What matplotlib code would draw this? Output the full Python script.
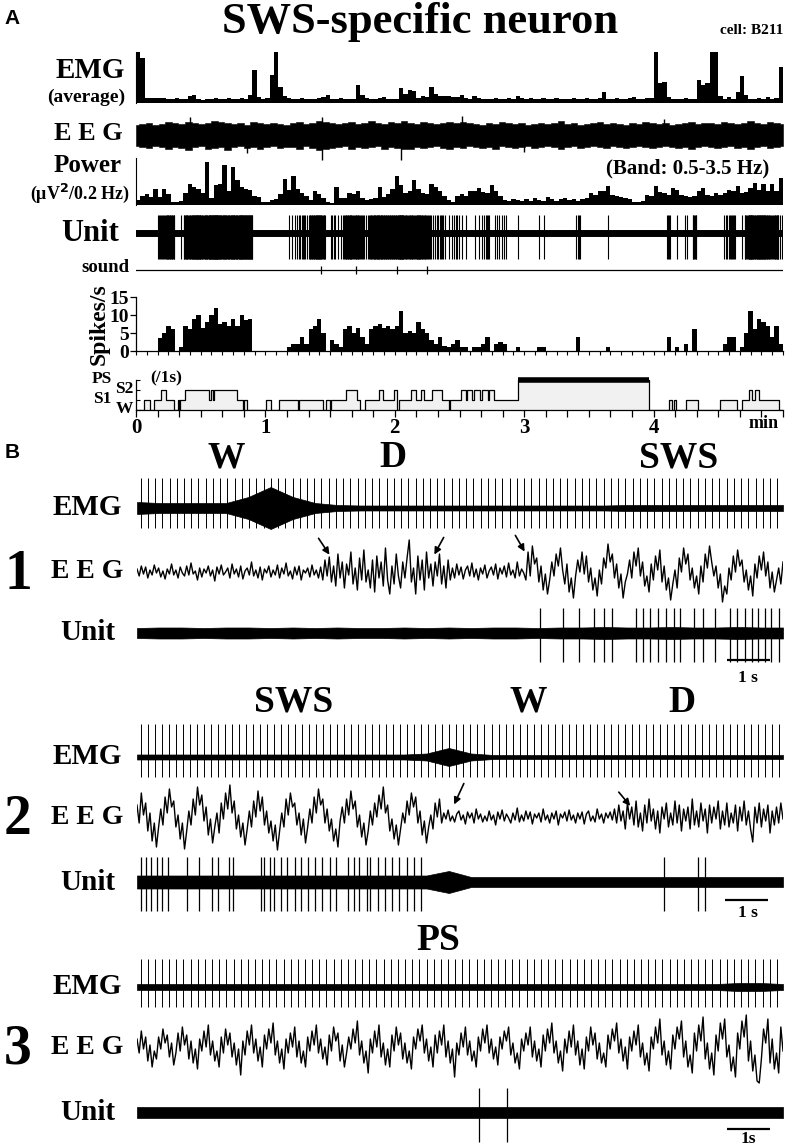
import matplotlib
matplotlib.use('Agg')
import matplotlib.pyplot as plt
import numpy as np

# ---------------- panel A : 2 s bins over 0-300 s ----------------
emg_avg = [10, 8.8, 1.0, 0.9, 1.0, 0.9, 1.0, 0.8, 0.8, 1.0, 0.7, 0.8, 1.3, 1.6, 0.7, 0.6, 0.8, 0.7, 0.9, 0.7,
           0.8, 1.0, 0.8, 0.7, 0.9, 0.8, 1.5, 6.4, 1.2, 0.8, 0.9, 5.4, 10, 3.2, 1.4, 0.9, 0.8, 0.7, 0.9, 0.7,
           0.8, 0.7, 0.9, 1.2, 1.5, 0.8, 0.7, 0.9, 0.8, 0.7, 0.8, 3.5, 1.6, 0.9, 0.8, 0.7, 0.9, 1.1, 0.8, 0.7,
           0.8, 3.0, 1.8, 2.6, 2.4, 1.0, 1.3, 1.2, 3.2, 1.8, 1.4, 1.3, 1.4, 1.2, 1.1, 1.5, 0.9, 0.8, 1.4, 0.9,
           0.7, 0.8, 0.7, 0.9, 0.8, 0.7, 0.9, 0.8, 1.4, 0.9, 0.7, 1.0, 0.8, 0.7, 0.9, 0.8, 0.7, 0.9, 0.8, 0.7,
           0.8, 0.9, 0.7, 0.8, 1.0, 0.8, 0.7, 0.9, 2.2, 0.8, 0.7, 1.0, 0.8, 0.7, 0.9, 1.2, 0.8, 0.7, 0.9, 1.0,
           10, 4.0, 4.2, 1.2, 0.8, 0.7, 0.8, 0.9, 0.7, 0.8, 4.6, 3.6, 4.0, 10, 10, 1.4, 0.8, 1.2, 0.8, 2.2,
           5.2, 1.6, 0.8, 0.7, 0.9, 0.8, 1.1, 0.8, 0.9, 7.0]

power = [1.2, 2.0, 2.5, 1.8, 3.7, 1.8, 3.7, 2.5, 0.8, 0.8, 1.0, 2.9, 5.0, 4.2, 3.7, 2.9, 10, 1.7, 4.6, 5.0,
         9.3, 3.3, 9.0, 5.8, 4.2, 3.7, 3.5, 2.0, 1.8, 0.8, 0.7, 1.2, 1.5, 2.5, 6.0, 3.5, 6.7, 3.8, 2.9, 2.0,
         1.2, 3.3, 2.5, 1.7, 0.8, 0.5, 4.2, 1.7, 1.7, 2.9, 2.5, 3.2, 1.7, 1.2, 1.5, 1.7, 4.2, 1.8, 2.5, 3.7,
         6.8, 4.6, 2.9, 3.3, 5.8, 3.7, 2.9, 2.5, 5.0, 4.2, 3.3, 2.1, 1.2, 0.8, 2.1, 2.6, 2.0, 3.2, 3.2, 4.0,
         3.0, 2.8, 4.6, 3.2, 2.0, 1.2, 1.0, 1.5, 1.2, 0.9, 1.4, 1.0, 1.6, 1.2, 1.0, 1.8, 1.3, 1.0, 1.4, 1.7,
         1.2, 1.5, 1.0, 1.4, 1.6, 2.8, 2.4, 3.2, 3.2, 4.4, 2.4, 2.0, 1.8, 1.6, 1.4, 0.8, 0.8, 1.0, 2.4, 2.0,
         4.4, 3.0, 2.8, 2.4, 4.0, 3.4, 2.4, 2.0, 1.8, 2.2, 3.2, 4.0, 2.4, 2.0, 2.8, 2.4, 2.8, 3.6, 3.2, 4.4,
         2.8, 3.0, 4.0, 5.2, 3.6, 4.8, 3.2, 5.0, 3.2, 6.4]

spike_rate = [0, 0, 0, 0, 0, 3.5, 5, 7, 6, 0, 1, 7, 6, 9, 10, 6.5, 8, 10, 12, 7.5,
              8, 7, 9, 7, 10, 8.5, 9, 0, 0, 0, 0, 0, 0, 0, 0, 1, 2, 2, 4, 2,
              6, 7, 9, 5, 0, 3, 2, 1, 6, 7, 5, 6.5, 4, 2, 6, 7, 7.5, 6.5, 7, 6,
              7, 11, 5, 5.5, 5, 8, 6, 5, 3, 2, 4, 1.5, 1, 2, 3, 1, 1, 0, 1, 1,
              2, 4, 0, 2, 2.5, 2, 0, 0, 1, 0, 0, 0, 0, 1, 1, 0, 0, 0, 0, 0,
              0, 0, 4, 0, 0, 0, 0, 0, 0, 1, 0, 0, 0, 0, 0, 0, 0, 0, 0, 0,
              0, 0, 0, 4, 0, 1, 0, 2, 0, 6, 0, 0, 0, 0, 0, 0, 2, 4, 4, 0,
              1, 5, 11, 6, 9, 8, 7, 4, 7, 2]

# EEG band envelope, 3 s segments, plus isolated large deflections
eeg_a_upper = [10, 11, 12, 10, 11, 13, 12, 11, 13, 12, 11, 12, 14, 13, 12, 11, 12, 10, 13, 12,
               11, 12, 11, 10, 12, 13, 11, 12, 14, 13, 12, 11, 12, 13, 11, 12, 14, 12, 11, 13,
               12, 14, 12, 11, 13, 12, 11, 12, 13, 12, 13, 12, 11, 10, 12, 11, 13, 12, 11, 12,
               10, 11, 12, 11, 12, 14, 11, 12, 10, 11, 12, 13, 11, 12, 11, 10, 12, 11, 13, 12,
               11, 12, 10, 11, 12, 13, 11, 12, 12, 11, 13, 12, 11, 12, 14, 12, 11, 13, 12, 11]
eeg_a_lower = [-11, -12, -13, -11, -12, -14, -12, -13, -15, -12, -11, -14, -13, -12, -15, -12, -11, -13, -12, -14,
               -12, -11, -13, -12, -12, -14, -11, -13, -15, -14, -13, -12, -11, -14, -12, -13, -12, -11, -14, -12,
               -13, -14, -14, -12, -13, -12, -11, -13, -14, -12, -13, -11, -12, -13, -12, -14, -11, -12, -13, -12,
               -11, -13, -12, -11, -12, -14, -12, -11, -13, -12, -11, -12, -13, -11, -12, -13, -12, -11, -12, -13,
               -12, -11, -12, -13, -12, -14, -12, -11, -12, -13, -12, -11, -13, -12, -14, -12, -11, -13, -12, -11]
eeg_a_spike_min = [0.42, 0.86, 1.44, 1.44, 2.05, 2.52, 3.00, 4.08]
eeg_a_spike_amp = [18, -18, 18, -25, -25, 19, -17, 16]

sound_min = [1.43, 1.70, 2.02, 2.25]

hyp_start_s = [0, 3.6, 6.7, 8.5, 11.6, 13.9, 17.5, 19.3, 19.8, 20.3, 22.7, 34.0, 34.7, 35.5, 36.3,
               47.0, 49.4, 50.0, 51.7, 60.2, 62.5, 66.4, 75.0, 75.5, 86.5, 88.0, 90.0, 90.6, 97.3,
               102.7, 104.0, 106.0, 112.7, 114.3, 119.7, 121.2, 121.8, 127.4, 129.7, 132.0, 133.6,
               137.4, 142.0, 145.0, 145.6, 150.6, 152.9, 153.7, 156.0, 156.8, 159.4, 160.3, 163.0,
               163.7, 166.0, 176.9, 237.9, 247.0, 248.7, 249.4, 250.5, 254.8, 260.7, 271.0, 278.8,
               281.0, 284.2, 285.7, 286.8, 288.8, 298.0]
hyp_stage = [0, 1, 0, 1, 2, 1, 0, 1, 0, 1, 2, 1, 2, 1, 2,
             1, 0, 1, 0, 1, 0, 1, 0, 1, 0, 1, 0, 1, 2,
             1, 0, 1, 2, 1, 2, 0, 1, 2, 1, 2, 1,
             2, 1, 0, 1, 2, 1, 2, 1, 2, 1, 2, 1,
             2, 1, 3, 0, 1, 0, 1, 0, 1, 0, 1, 0,
             1, 2, 1, 2, 1, 0]
stage_names = ['W', 'S1', 'S2', 'PS']

# ---------------- panel B : 15 s sweeps, 0.05 s samples ----------------
b1_eeg = [3, -4, 6, -2, 5, -6, 2, -3, 7, -1, 4, -5, 1, -7, 3, -2, 8, -3, 2, -6,
          5, -1, -4, 6, -3, 9, -2, 1, -8, 4, -5, 3, -1, 6, -4, 2, -9, 5, -2, 7,
          -3, 0, 4, -6, 8, -2, 3, -5, 6, -7, 1, 4, -3, 10, -4, 2, -6, 5, -8, 3,
          -1, 6, -5, 2, -3, 7, -6, 4, -2, 9, -4, 1, -7, 5, -3, 6, -8, 2, -1, 4,
          -5, 7, -3, 2, -6, 5,
          -8, 12, -4, 15, -10, 6, -14, 18, -6, 10, -16, 8, -3, 20, -12, 4, -18, 14, -8, 22,
          -10, 2, -16, 12, -20, 16, -6, 10, -14, 24, -8, -22, 6, -12, 18, -4, -16, 10, -6, 14,
          32, -10, 4, -22, 16, -8, 12, -18, 20, -6, 8, -14, 10, -4, 18, -12, 6, -16, 12, -8, 4,
          -6, 8, -3, 5, -7, 2, 6, -4, 9, -5, 3, -8, 4, -2, 7, -6, 1, 5, -3, 8,
          -7, 4, -2, 6, -5, 9, -3, 2, -6, 10, -4, 3, -1, -8,
          20, -4, 26, 8, 14, -10, 6, -18, -2, -22, -8, 10, -4, 18, 6, 24, 2, -12, 8, -20,
          -6, -26, -4, 12, 0, 20, -2, 16, -10, 4, -18, -6, -24, 2, -12, 14, 4, 28, 10, 18,
          -6, 8, -16, -2, -26, -10, -2, 12, -6, 20, 6, 24, -4, 10, -14, -4, -20, 8, -8, 16,
          2, 22, -10, 6, -18, -6, -28, -12, 2, -16, 14, 0, 24, 8, 18, -8, 4, -16, -4, -22,
          6, -10, 18, 4, 26, 10, -4, 6, -16, -2, -30, -14, -22, 4, -8, 16, 0, 22, 6, 12,
          -10, 2, -18, -4, -24, 8, -6, 16, 2, 20, -4, 10, -16, 0, -20, -8, 4, -12, 10]
b2_eeg = [12, -6, 24, 2, 14, -14, 4, -24, -6, -30, -10, 8, -8, 20, 4, 28, 10, 16, -10, 2,
          -22, -6, -32, -14, 6, -8, 18, 2, 30, 12, 22, -4, 10, -18, -2, -26, -10, 4, -16, 14,
          -2, 24, 8, 32, 4, 16, -12, 2, -20, -6, -28, -12, 6, -10, 16, 0, 26, 6, 20, -8,
          6, -16, -4, -24, -8, -33, -14, 4, -10, 18, 2, 24, 10, 14, -8, 4, -18, -2, -26, -10,
          8, -6, 20, 4, 28, 12, 18, -6, 8, -14, -2, -24, -12, -30, -4, 10, -6, 18, 2, 26,
          8, 16, -10, 2, -20, -6, -28, -14, 6, -8, 14, 0, 22, 8, 30, 4, 12, -14, -2, -22,
          -8, -28, -12, 4, -6, 16, 2, 24, 10, 20, -6, 6, -18, -4, -26, -10, 2, -12, 14, 0, 18,
          -6, 4, -2, 7, -4, 1, -5, 3, 6, -3, 2, -7, 5, -1, 4, -6, 8, -2, 3, -5,
          1, -4, 6, -3, 2, -8, 5, -2, 7, -4, 3, -1, -6, 4, -3, 9, -5, 2, -4, 6,
          -2, 5, -7, 3, -1, 4, -5, 8, -3, 2, -6, 4, -2, 6, -8, 3, -1, 5, -4, 7,
          -3, 2, -6, 4, -2, 5, -7, 3, 6, -4, 1, -5, 8, -2, 3, -6, 4, -1, 5, -3,
          8, -6, 12, -4, 6, -12, 14, -2, 10, -8, 16, -10, 4, -14, 12, -6, 18, -4, 8, -12,
          6, -16, 10, -2, 14, -10, 4, -8, 16, -6, 12, -14, 8, -4, 10, -12, 18, -8, 6, -10,
          14, -4, 8, -16, 12, -6, 10, -2, 16, -12, 6, -8, 14, -10, 4, -6, 12, -14, 10, -4,
          16, -8, 6, -12, -25, 10, -6, 14, -10, 8, -4, 12, -16, 6, -8, 10, -6, 14, -2]
b3_eeg = [8, -6, 16, -2, 10, -14, 2, -20, -4, -12, 10, -2, 18, 4, 12, -10, 4, -18, -6, 14,
          -4, 20, 2, 12, -12, 6, -16, -2, -22, 8, -4, 16, 0, 22, -8, 6, -14, -4, -20, 10,
          -6, 18, 2, 14, -10, 4, -18, -2, -28, 6, -8, 16, 2, 22, -6, 8, -14, 0, -20, 12,
          -2, 18, 4, 24, -8, 6, -16, -2, -22, 8, -6, 14, 0, 20, -10, 6, -16, -4, -20, 10,
          -4, 16, 2, 22, -6, 8, -12, 0, -18, 12, -4, 20, 6, 14, -14, 2, -20, -6, 10, -2,
          18, 4, 26, -8, 6, -16, -4, -26, 8, -6, 16, 0, 22, -10, 4, -18, -2, -20, 12, -4,
          20, 2, 14, -12, 4, -16, -4, -22, 10, -2, 18, 6, 22, -6, 8, -14, 0, -20, 12, -6,
          16, 2, 22, -10, 6, -16, -2, -30, 4, -8, 14, 0, 20, -8, 6, -14, -4, -20, 10, -4,
          18, 4, 22, -6, 8, -12, 0, -18, 10, -2, 16, 6, 20, -8, 4, -16, -6, -22, 8, -4,
          14, 2, 20, -10, 6, -14, -2, -20, 12, -4, 18, 4, 24, -6, 6, -16, -4, -24, 8, -6,
          16, 0, 22, -8, 6, -18, -2, -22, 10, -4, 20, 2, 14, -12, 4, -16, -6, -20, 12, -2,
          18, 6, 24, -6, 8, -14, 0, -22, 10, -4, 16, 2, 22, -10, 4, -18, -6, -24, 10, -2,
          20, 4, 28, -8, 6, -18, -4, -22, 12, -2, 20, 8, 26, -10, 6, -20, -8, -26, 14, -4,
          22, 6, 30, -12, 4, -22, -6, -28, 12, -4, 24, 8, 28, -10, 2, -24, -10, -30, 14, -2,
          26, 10, 32, -14, 6, -24, -8, -34, -36, -12, 18, 4, 28, -16, 8, -22, -6, -26, 20, -4]

# noise envelopes (0.5 s segments)
b1_emg_env = [6, 5, 5, 5, 5, 11, 21, 11, 5, 3, 2.5, 2.5, 2.5, 2.5, 2.5, 2.5, 2.5, 2.5, 2.5, 2.5,
              2.5, 2.5, 3, 3, 3, 3, 3, 3, 3, 3]
b2_emg_env = [2.5, 2.5, 2.5, 2.5, 2.5, 2.5, 2.5, 2.5, 2.5, 2.5, 2.5, 2.5, 2.5, 3.5, 9, 3.5, 2, 2, 2, 2,
              2, 2, 2, 2, 2, 2, 2, 2, 2, 2]
b3_emg_env = [3, 3, 3, 3, 3, 3, 3, 3, 3, 3, 3, 3, 3, 3, 3, 3, 3, 3, 3, 3, 3, 3, 3, 3, 3, 3, 3, 4, 4, 3]
b1_unit_env = [5, 5.5, 5.5, 5, 5.5, 5.5, 5, 5.5, 5, 5.5, 5, 5, 5.5, 5, 5.5, 5, 5.5, 5.5, 5, 5.5,
               5.5, 6, 5.5, 5.5, 6, 5.5, 5.5, 6, 5.5, 5.5]
b2_unit_env = [6.5, 6.5, 6.5, 6.5, 6.5, 6.5, 6.5, 6.5, 6.5, 6.5, 6.5, 6.5, 6.5, 6.5, 11, 5, 5, 5, 5, 5,
               5, 5, 5, 5, 5, 5, 5, 5, 5, 5]
b3_unit_env = [5.5, 5.5, 5.5, 5.5, 5.5, 5.5, 5.5, 5.5, 5.5, 5.5, 5.5, 5.5, 5.5, 5.5, 5.5, 5.5, 5.5, 5.5,
               5.5, 5.5, 5.5, 5.5, 5.5, 5.5, 5.5, 5.5, 5.5, 5.5, 5.5, 5.5]

b1_unit_spikes = [9.36, 9.90, 10.27, 10.60, 10.84, 11.04, 11.58, 11.74, 11.91, 12.09, 12.29, 12.46, 12.61,
                  12.94, 13.14, 13.41, 13.76, 13.93, 14.11, 14.29, 14.43, 14.58, 14.72, 14.90]
b2_unit_spikes = [0.09, 0.21, 0.33, 0.47, 0.58, 0.73, 1.17, 1.44, 1.73, 1.87, 2.14, 2.22, 2.88, 2.96, 3.08,
                  3.19, 3.34, 3.49, 3.66, 3.81, 3.98, 4.13, 4.30, 4.48, 4.63, 4.89, 5.03, 5.15, 5.33, 5.42,
                  5.59, 5.77, 5.92, 6.08, 6.27, 6.44, 6.59, 12.24, 13.02, 13.18]
b3_unit_spikes = [7.93, 8.60]

heart_period = [0.168, 0.163, 0.166]

# ---------------- figure ----------------
W, H = 789, 1148
fig = plt.figure(figsize=(W / 100, H / 100), dpi=100)
plt.rcParams['font.family'] = ['Liberation Serif', 'DejaVu Serif']
plt.rcParams['font.weight'] = 'bold'


def px_axes(x0, y0, x1, y1):
    ax = fig.add_axes([x0 / W, 1 - y1 / H, (x1 - x0) / W, (y1 - y0) / H])
    ax.set_facecolor('none')
    for s in ax.spines.values():
        s.set_visible(False)
    ax.set_xticks([])
    ax.set_yticks([])
    return ax


def ftext(x, y, s, size, ha='center', **kw):
    fig.text(x / W, 1 - y / H, s, fontsize=size, ha=ha, va='center', fontweight='bold', **kw)


XL, XR = 136, 783          # panel A time axis 0..5 min
bins_min = np.arange(len(spike_rate)) * 2 / 60
bw = 2 / 60

ftext(12, 18, 'A', 15, family='Liberation Sans')
ftext(420, 22, 'SWS-specific neuron', 32)
ftext(752, 30, 'cell: B211', 11)

# EMG average
ax = px_axes(XL, 52, XR, 103)
ax.bar(bins_min, emg_avg, width=bw, align='edge', color='k', lw=0)
ax.set_xlim(0, 5); ax.set_ylim(0, 10)
ax.spines['left'].set_visible(True); ax.spines['left'].set_linewidth(0.8)
ax.axhline(0, color='k', lw=1.5)
ftext(90, 70, 'EMG', 21)
ftext(86, 97, '(average)', 14)

# EEG
ax = px_axes(XL, 108, XR, 162)
tt = np.linspace(0, 5, len(eeg_a_upper))
ax.fill_between(tt, eeg_a_lower, eeg_a_upper, step='mid', color='k', lw=0.4)
ax.vlines(eeg_a_spike_min, 0, eeg_a_spike_amp, color='k', lw=1.0)
ax.set_xlim(0, 5); ax.set_ylim(-27, 27)
ftext(88, 133, 'E E G', 19)

# Power
ax = px_axes(XL, 158, XR, 205)
ax.bar(bins_min, power, width=bw, align='edge', color='k', lw=0)
ax.set_xlim(0, 5); ax.set_ylim(0, 11)
ax.spines['left'].set_visible(True); ax.spines['left'].set_linewidth(0.8)
ax.axhline(0, color='k', lw=1.5)
ftext(88, 165, 'Power', 18)
ftext(80, 193, '(μV$^\\mathbf{2}$/0.2 Hz)', 13)
ftext(688, 168, '(Band: 0.5-3.5 Hz)', 15)

# Unit
ax = px_axes(XL, 205, XR, 263)
ax.axhline(0, color='k', lw=5)
for b0, r in zip(bins_min, spike_rate):
    n = int(round(r))
    if n:
        ts = b0 + (np.arange(n) + 0.5) * bw / n
        ax.vlines(ts, -26, 18, color='k', lw=0.8)
ax.set_xlim(0, 5); ax.set_ylim(-30, 28)
ftext(90, 233, 'Unit', 22)

# sound
ax = px_axes(XL, 262, XR, 278)
ax.axhline(0, color='k', lw=0.9)
ax.vlines(sound_min, -4, 4, color='k', lw=0.9)
ax.set_xlim(0, 5); ax.set_ylim(-8, 8)
ftext(129, 268, 'sound', 13.5, ha='right')

# spikes/s
ax = px_axes(XL, 297, XR, 351)
ax.bar(bins_min, spike_rate, width=bw, align='edge', color='k', lw=0)
ax.set_xlim(0, 5); ax.set_ylim(0, 15)
for s in ['left', 'bottom']:
    ax.spines[s].set_visible(True); ax.spines[s].set_linewidth(0.9)
ax.spines['left'].set_bounds(0, 15)
ax.set_yticks([0, 5, 10, 15])
ax.set_xticks(np.arange(0, 5.001, 1 / 12))
ax.set_xticklabels([])
ax.tick_params(axis='y', length=4, width=0.9, labelsize=14, pad=1)
ax.tick_params(axis='x', length=3, width=0.8)
ax.set_ylabel('Spikes/s', fontsize=17, fontweight='bold', labelpad=0)

# hypnogram
ax = px_axes(XL, 372, XR, 410)
ht = np.array(hyp_start_s + [300]) / 60
hs = hyp_stage + [hyp_stage[-1]]
ax.fill_between(ht, 0, hs, step='post', color='#f1f1f1', lw=0)
ax.step(ht, hs, where='post', color='k', lw=0.9)
for a, b, s in zip(ht[:-1], ht[1:], hyp_stage):
    if s == 3:
        ax.hlines(3, a, b, color='k', lw=4)
ax.set_xlim(0, 5); ax.set_ylim(0, 3.8)
for s in ['left', 'bottom']:
    ax.spines[s].set_visible(True); ax.spines[s].set_linewidth(0.9)
ax.spines['left'].set_bounds(0, 3)
ax.set_yticks([0, 1, 2, 3]); ax.set_yticklabels([])
ax.tick_params(axis='y', length=3, direction='in')
xt = np.arange(0, 5.001, 1 / 6)
ax.set_xticks(xt)
ax.set_xticklabels([str(int(round(v))) if abs(v - round(v)) < 1e-6 and v < 4.5 else '' for v in xt])
ax.tick_params(axis='x', length=5, width=0.9, labelsize=15, pad=1)
ftext(764, 423, 'min', 13)
ftext(166, 378, '(/1s)', 12.5)
for lvl, name, xx in zip(range(4), stage_names, [124, 102, 124, 102]):
    ftext(xx, 410 - lvl * 10 - 1, name, 12.5)

# ---------------- panel B ----------------
ftext(12, 452, 'B', 15, family='Liberation Sans')

rows = [
    dict(num='1', c=(508, 572, 633), eeg=b1_eeg, emg_env=b1_emg_env, unit_env=b1_unit_env,
         spikes=b1_unit_spikes, hp=heart_period[0], emg_amp=(30, -20),
         stages=[('W', 226), ('D', 393), ('SWS', 679)], stage_y=458, bar_y=660, bar_t=13.70, lab='1 s', lab_y=678,
         arrows=[((317, 536), (331, 557)), ((445, 535), (433, 557)), ((514, 533), (526, 554))]),
    dict(num='2', c=(757, 817, 882), eeg=b2_eeg, emg_env=b2_emg_env, unit_env=b2_unit_env,
         spikes=b2_unit_spikes, hp=heart_period[1], emg_amp=(33, -20),
         stages=[('SWS', 294), ('W', 528), ('D', 682)], stage_y=702, bar_y=900, bar_t=13.65, lab='1 s', lab_y=913,
         arrows=[((465, 781), (453, 807)), ((617, 790), (632, 808))]),
    dict(num='3', c=(987, 1047, 1113), eeg=b3_eeg, emg_env=b3_emg_env, unit_env=b3_unit_env,
         spikes=b3_unit_spikes, hp=heart_period[2], emg_amp=(28, -20),
         stages=[('PS', 438)], stage_y=940, bar_y=1129, bar_t=13.70, lab='1s', lab_y=1139,
         arrows=[]),
]

BL, BR = 137, 783
for r in rows:
    ce, cg, cu = r['c']
    # EMG
    ax = px_axes(BL, ce - 40, BR, ce + 40)
    te = np.linspace(0, 15, len(r['emg_env']))
    env = np.array(r['emg_env'])
    ax.fill_between(te, -env, env, color='k', lw=0.5)
    beats = np.arange(r['hp'] / 2, 15, r['hp'])
    ax.vlines(beats, r['emg_amp'][1], r['emg_amp'][0], color='k', lw=0.7)
    ax.set_xlim(0, 15); ax.set_ylim(-40, 40)
    ftext(87, ce, 'EMG', 21)
    # EEG
    ax = px_axes(BL, cg - 40, BR, cg + 40)
    tg = np.linspace(0, 15, len(r['eeg']))
    ax.plot(tg, r['eeg'], color='k', lw=1.0)
    ax.set_xlim(0, 15); ax.set_ylim(-40, 40)
    ftext(87, cg, 'E E G', 20)
    ftext(18, cg + 3, r['num'], 40)
    # Unit
    ax = px_axes(BL, cu - 40, BR, cu + 40)
    tu = np.linspace(0, 15, len(r['unit_env']))
    env = np.array(r['unit_env'])
    ax.fill_between(tu, -env, env, color='k', lw=0.5)
    ax.vlines(r['spikes'], -29, 25, color='k', lw=0.9)
    ax.set_xlim(0, 15); ax.set_ylim(-40, 40)
    ftext(88, cu, 'Unit', 21)
    # scale bar
    ax = px_axes(BL, r['bar_y'] - 3, BR, r['bar_y'] + 3)
    ax.hlines(0, r['bar_t'], r['bar_t'] + 1, color='k', lw=1.6)
    ax.set_xlim(0, 15); ax.set_ylim(-1, 1)
    ftext(748, r['lab_y'], r['lab'], 12.5)
    # stage labels
    for name, xx in r['stages']:
        ftext(xx, r['stage_y'], name, 27)
    for (x0, y0), (x1, y1) in r['arrows']:
        fig.add_artist(matplotlib.patches.FancyArrowPatch(
            (x0 / W, 1 - y0 / H), (x1 / W, 1 - y1 / H), transform=fig.transFigure,
            arrowstyle='-|>', mutation_scale=10, color='k', lw=1.2))

fig.savefig('out.png', dpi=100)
